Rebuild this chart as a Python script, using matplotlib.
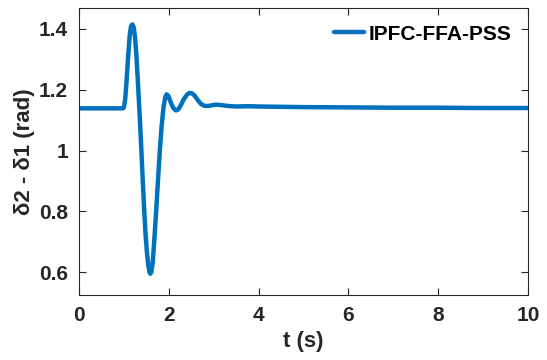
import matplotlib
matplotlib.use("Agg")
import matplotlib.pyplot as plt

t = [0.0, 0.5, 0.98, 1.0, 1.03, 1.06, 1.10, 1.13, 1.16, 1.19, 1.22, 1.25, 1.28,
     1.31, 1.35, 1.39, 1.42, 1.45, 1.48, 1.51, 1.54, 1.57, 1.59, 1.61, 1.64,
     1.67, 1.71, 1.75, 1.80, 1.84, 1.88, 1.92, 1.95, 1.99, 2.04, 2.10, 2.16,
     2.21, 2.27, 2.33, 2.40, 2.46, 2.52, 2.58, 2.65, 2.72, 2.80, 2.88, 2.96,
     3.05, 3.15, 3.30, 3.50, 3.75, 4.0, 4.5, 5.0, 6.0, 7.0, 8.0, 9.0, 10.0]
delta = [1.139, 1.139, 1.139, 1.142, 1.17, 1.23, 1.32, 1.38, 1.41, 1.415, 1.405,
         1.37, 1.31, 1.23, 1.12, 1.00, 0.90, 0.81, 0.73, 0.67, 0.625, 0.60,
         0.595, 0.60, 0.63, 0.69, 0.78, 0.88, 1.00, 1.08, 1.14, 1.175, 1.185,
         1.18, 1.16, 1.14, 1.132, 1.135, 1.15, 1.168, 1.183, 1.19, 1.188, 1.18,
         1.165, 1.153, 1.147, 1.147, 1.149, 1.151, 1.150, 1.147, 1.145, 1.146,
         1.145, 1.144, 1.143, 1.142, 1.141, 1.141, 1.140, 1.140]

series_label = "IPFC-FFA-PSS"
x_ticks = [0, 2, 4, 6, 8, 10]
y_ticks = [0.6, 0.8, 1.0, 1.2, 1.4]
y_tick_labels = ["0.6", "0.8", "1", "1.2", "1.4"]

plt.rcParams['font.family'] = ['Liberation Sans', 'DejaVu Sans']
plt.rcParams['font.weight'] = 'bold'

fig = plt.figure(figsize=(5.47, 3.6), dpi=100)
ax = fig.add_axes([79/547, 1-295/360, (528-79)/547, (295-8)/360])
ax.plot(t, delta, color='#0072BD', lw=3.2, label=series_label, solid_capstyle='round')
ax.set_xlim(0, 10)
ax.set_ylim(0.525, 1.469)
ax.set_xticks(x_ticks)
ax.set_xticklabels([str(v) for v in x_ticks])
ax.set_yticks(y_ticks)
ax.set_yticklabels(y_tick_labels)
ax.tick_params(direction='in', top=True, right=True, length=5, width=0.8,
               labelsize=15, colors='#262626', pad=8)
for s in ax.spines.values():
    s.set_color('#262626')
    s.set_linewidth(0.8)
ax.set_xlabel('t (s)', fontsize=16, fontweight='bold', color='#262626', labelpad=4)
ax.set_ylabel('δ2 - δ1 (rad)', fontsize=16, fontweight='bold', color='#262626', labelpad=3)
leg = ax.legend(loc='upper right', frameon=False, fontsize=15, handlelength=1.45,
                handletextpad=0.2, borderaxespad=0.4)
for txt in leg.get_texts():
    txt.set_fontweight('bold')
    txt.set_color('black')
fig.savefig('out.png', dpi=100)
